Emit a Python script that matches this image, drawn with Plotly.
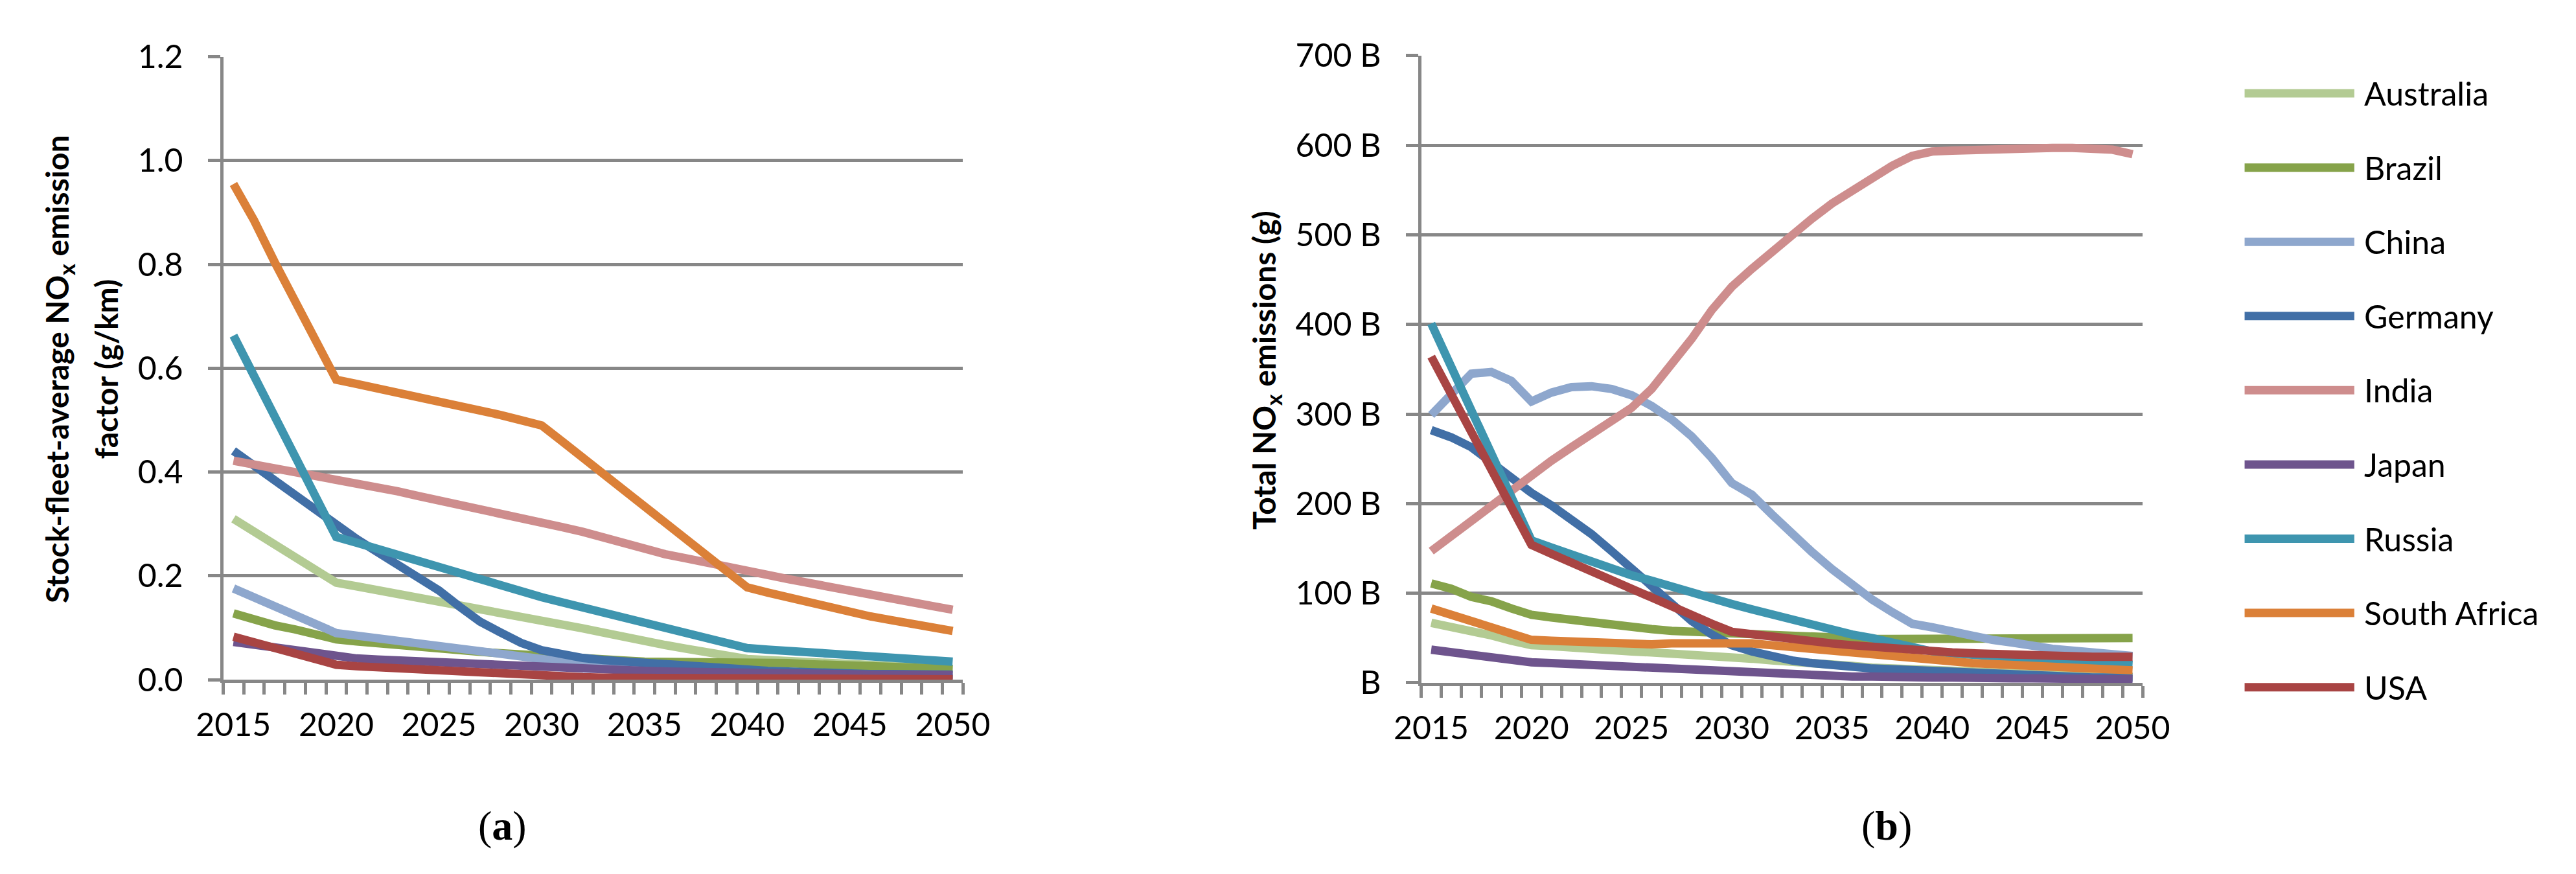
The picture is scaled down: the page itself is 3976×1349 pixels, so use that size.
import plotly.graph_objects as go

W, H = 3976, 1349
years = list(range(2015, 2051))
countries = ["Australia", "Brazil", "China", "Germany", "India", "Japan", "Russia", "South Africa", "USA"]
colors = ["#B3CB93", "#86A34A", "#8EA7CD", "#416FA6", "#CE8D8D", "#6E548D", "#3E95AF", "#DB8038", "#A84443"]

# (a) stock-fleet-average NOx emission factor (g/km)
a_australia = [.310,.285,.260,.236,.211,.187,.180,.173,.166,.159,.152,.145,.138,.130,.123,.116,.108,.099,.091,.082,.074,.067,.060,.053,.046,.040,.038,.036,.034,.032,.030,.028,.026,.025,.023,.021]
a_brazil = [.128,.115,.105,.097,.087,.078,.074,.070,.066,.063,.060,.057,.054,.051,.048,.045,.043,.041,.039,.037,.035,.035,.035,.035,.035,.035,.033,.032,.030,.029,.027,.026,.025,.023,.022,.021]
a_china = [.176,.159,.142,.125,.108,.090,.085,.080,.075,.070,.065,.059,.053,.048,.042,.037,.033,.030,.027,.024,.021,.019,.017,.015,.013,.012,.010,.009,.008,.007,.006,.005,.005,.004,.004,.003]
a_germany = [.441,.412,.383,.354,.325,.296,.271,.246,.222,.198,.172,.141,.112,.091,.071,.057,.048,.042,.038,.035,.032,.029,.026,.023,.021,.019,.017,.016,.014,.013,.012,.011,.011,.010,.010,.010]
a_india = [.422,.415,.408,.401,.395,.388,.380,.371,.363,.354,.346,.337,.328,.320,.311,.303,.294,.285,.274,.262,.250,.242,.234,.227,.219,.211,.202,.194,.186,.178,.170,.163,.156,.149,.142,.135]
a_japan = [.073,.067,.061,.055,.049,.043,.041,.039,.037,.035,.033,.031,.029,.027,.025,.023,.022,.021,.019,.018,.017,.016,.015,.015,.014,.013,.013,.012,.012,.011,.011,.010,.010,.010,.009,.009]
a_russia = [.663,.585,.508,.430,.353,.275,.264,.252,.240,.228,.216,.205,.193,.182,.170,.159,.149,.139,.128,.118,.107,.098,.088,.079,.070,.061,.058,.055,.052,.049,.046,.044,.041,.039,.037,.035]
a_south_africa = [.955,.885,.805,.728,.652,.578,.570,.562,.554,.546,.537,.528,.519,.510,.500,.490,.459,.428,.397,.366,.334,.303,.272,.240,.209,.178,.168,.158,.148,.139,.130,.122,.115,.108,.101,.094]
a_usa = [.083,.072,.061,.050,.040,.029,.026,.024,.021,.019,.016,.014,.012,.010,.008,.007,.006,.005,.004,.004,.003,.003,.003,.002,.002,.002,.002,.001,.001,.001,.001,.001,.001,.001,.001,.001]

# (b) total NOx emissions (billions of g)
b_australia = [67,63,58,53,47,42,41,39,38,36,35,34,33,31,30,29,27,25,24,22,20,19,17,16,14,13,12,12,11,11,10,9,9,8,8,7]
b_brazil = [111,105,96,91,83,76,73,70,67,65,62,60,58,57,55,54,53,52,51,51,50,50,49,49,49,49,49,49,49,49,49,49,49,49,50,50]
b_china = [299,321,345,347,337,314,324,330,331,328,321,309,294,275,251,223,210,188,166,146,127,110,93,79,66,62,57,52,48,45,41,38,36,34,32,30]
b_germany = [282,274,263,246,229,212,198,183,166,147,127,108,88,69,54,42,35,29,25,22,19,18,16,15,13,12,11,10,9,8,8,7,7,6,6,6]
b_india = [147,164,181,198,216,233,248,263,278,292,307,328,355,384,416,442,462,481,501,518,535,549,564,577,588,593,594,595,596,596,597,597,597,597,595,590]
b_japan = [37,34,31,29,26,23,22,21,20,19,18,17,15,14,12,11,10,9,9,8,7,7,7,6,6,6,6,5,5,5,5,5,4,4,4,4]
b_russia = [401,353,304,256,207,159,151,143,135,128,120,114,107,101,94,88,82,76,71,65,59,54,50,45,40,35,33,31,29,28,26,25,24,22,21,20]
b_south_africa = [83,76,69,62,55,48,47,46,44,43,42,43,44,44,45,46,44,42,40,38,36,34,31,29,26,24,23,22,21,20,19,18,17,16,15,14]
b_usa = [364,322,280,238,196,154,144,134,124,114,104,95,85,76,66,57,54,52,49,47,44,42,40,38,37,35,34,33,32,32,31,30,30,29,29,29]

x_ticks = [2015, 2020, 2025, 2030, 2035, 2040, 2045, 2050]
a_ticks = [0.0, 0.2, 0.4, 0.6, 0.8, 1.0, 1.2]
a_ticklabels = ["0.0", "0.2", "0.4", "0.6", "0.8", "1.0", "1.2"]
b_ticks = [0, 100, 200, 300, 400, 500, 600, 700]
b_ticklabels = ["B", "100 B", "200 B", "300 B", "400 B", "500 B", "600 B", "700 B"]

series_a = [a_australia, a_brazil, a_china, a_germany, a_india, a_japan, a_russia, a_south_africa, a_usa]
series_b = [b_australia, b_brazil, b_china, b_germany, b_india, b_japan, b_russia, b_south_africa, b_usa]

FONT = "Lato"
GRID = "#878787"

def px_x(p):
    return p / W

def px_y(p):
    return 1 - p / H

fig = go.Figure()
for name, col, ya, yb in zip(countries, colors, series_a, series_b):
    fig.add_trace(go.Scatter(x=years, y=ya, mode="lines", name=name, showlegend=False,
                             line=dict(color=col, width=13), xaxis="x", yaxis="y"))
    fig.add_trace(go.Scatter(x=years, y=yb, mode="lines", name=name, showlegend=False,
                             line=dict(color=col, width=13), xaxis="x2", yaxis="y2"))

def xaxis_cfg(domain, anchor):
    return dict(domain=domain, anchor=anchor, range=[2014.5, 2050.5], tickvals=x_ticks,
                ticktext=[str(v) for v in x_ticks], ticks="", showgrid=False, zeroline=False,
                showline=True, linecolor=GRID, linewidth=5,
                tickfont=dict(family=FONT, size=50, color="black"), ticklabelstandoff=22,
                minor=dict(tickvals=[2014.5 + i for i in range(37)], ticks="outside",
                           ticklen=18, tickwidth=5, tickcolor=GRID, showgrid=False))

def yaxis_cfg(domain, anchor, rng, tv, tt):
    return dict(domain=domain, anchor=anchor, range=rng, tickvals=tv, ticktext=tt,
                ticks="outside", ticklen=19, tickwidth=5, tickcolor=GRID,
                showgrid=True, gridcolor=GRID, gridwidth=5, zeroline=False,
                showline=True, linecolor=GRID, linewidth=5,
                tickfont=dict(family=FONT, size=50, color="black"), ticklabelstandoff=28)

fig.update_layout(
    width=W, height=H, paper_bgcolor="white", plot_bgcolor="white",
    margin=dict(l=0, r=0, t=0, b=0), showlegend=False,
    xaxis=xaxis_cfg([px_x(300), px_x(1467)], "y"),
    yaxis=yaxis_cfg([px_y(1057), px_y(50)], "x", [0, 1.2], a_ticks, a_ticklabels),
    xaxis2=xaxis_cfg([px_x(2190), px_x(3328)], "y2"),
    yaxis2=yaxis_cfg([px_y(1062), px_y(48)], "x2", [0, 700], b_ticks, b_ticklabels),
)

def note(text, xp, yp, size, family=FONT, angle=0, xanchor="center"):
    fig.add_annotation(text=text, textangle=angle, x=px_x(xp), y=px_y(yp), xref="paper", yref="paper",
                       xanchor=xanchor, yanchor="middle", showarrow=False,
                       font=dict(family=family, size=size, color="black"))

# axis titles
note("<b>Stock-fleet-average NO<sub>x</sub> emission</b>", 41, 555, 48, angle=-90)
note("<b>factor (g/km)</b>", 115, 555, 48, angle=-90)
note("<b>Total NO<sub>x</sub> emissions (g)</b>", 1945, 557, 48, angle=-90)

# panel labels
note("(<b>a</b>)", 741, 1293, 64, family="Liberation Serif")
note("(<b>b</b>)", 2924, 1293, 64, family="Liberation Serif")

# legend
for i, (name, col) in enumerate(zip(countries, colors)):
    yp = 109 + 120 * i
    fig.add_shape(type="line", xref="paper", yref="paper", x0=px_x(3489), x1=px_x(3662),
                  y0=px_y(yp), y1=px_y(yp), line=dict(color=col, width=13))
    note(name, 3675, yp, 50, xanchor="left")

fig.write_html("out.html")
